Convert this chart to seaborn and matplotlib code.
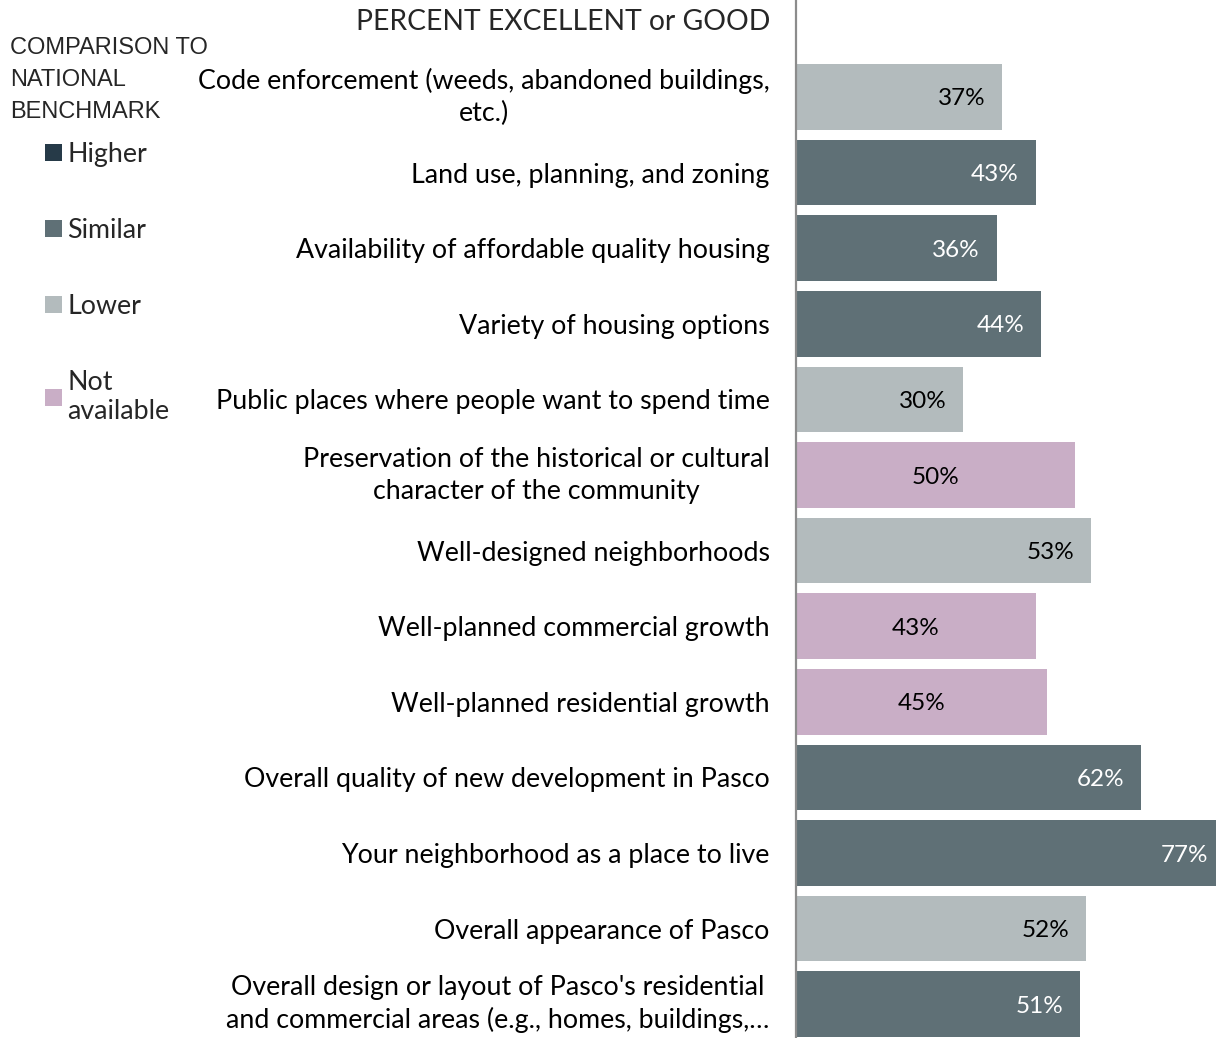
import seaborn as sns
import matplotlib.pyplot as plt
import pandas as pd
from matplotlib.patches import Patch

# Values
items = [
    "Code enforcement (weeds, abandoned buildings,\netc.)",
    "Land use, planning, and zoning",
    "Availability of affordable quality housing",
    "Variety of housing options",
    "Public places where people want to spend time",
    "Preservation of the historical or cultural\ncharacter of the community",
    "Well-designed neighborhoods",
    "Well-planned commercial growth",
    "Well-planned residential growth",
    "Overall quality of new development in Pasco",
    "Your neighborhood as a place to live",
    "Overall appearance of Pasco",
    "Overall design or layout of Pasco's residential\nand commercial areas (e.g., homes, buildings,\u2026",
]
pct = [37, 43, 36, 44, 30, 50, 53, 43, 45, 62, 77, 52, 51]
bench = ["Lower", "Similar", "Similar", "Similar", "Lower", "Not available",
         "Lower", "Not available", "Not available", "Similar", "Similar",
         "Lower", "Similar"]

legend_levels = ["Higher", "Similar", "Lower", "Not available"]
legend_labels = ["Higher", "Similar", "Lower", "Not\navailable"]
colors = {"Higher": "#263a48", "Similar": "#5f7076",
          "Lower": "#b3bbbd", "Not available": "#c9aec6"}
label_color = {"Higher": "white", "Similar": "white",
               "Lower": "black", "Not available": "black"}

df = pd.DataFrame({"item": items, "pct": pct, "bench": bench})

sns.set_theme(style="white")
plt.rcParams["font.family"] = ["Lato", "DejaVu Sans"]

fig = plt.figure(figsize=(12.16, 10.38), dpi=100)
ax = fig.add_axes([796 / 1216, 0.0, 420 / 1216, 1.0])

sns.barplot(data=df, y="item", x="pct", hue="bench", palette=colors,
            dodge=False, orient="h", width=0.87, legend=False, ax=ax,
            saturation=1, linewidth=0)

ax.set_xlim(0, 75.4)
ax.set_ylim(12.447, -1.283)
ax.set_xlabel("")
ax.set_ylabel("")
ax.set_xticks([])
ax.tick_params(axis="y", length=0, pad=19, labelsize=19.3, labelcolor="black")
for lbl in ax.get_yticklabels():
    lbl.set_horizontalalignment("right")
    lbl.set_multialignment("center")
    lbl.set_linespacing(1.35)
    if "\n" in lbl.get_text():
        lbl.set_verticalalignment("center")

for side in ["top", "right", "bottom"]:
    ax.spines[side].set_visible(False)
ax.spines["left"].set_color("#8c8c8c")
ax.spines["left"].set_linewidth(1.6)

# value labels: inside end, centred for "Not available"
for i, (v, b) in enumerate(zip(pct, bench)):
    if b == "Not available":
        ax.text(v / 2, i, f"{v}%", ha="center", va="center_baseline",
                fontsize=17.5, color=label_color[b])
    else:
        ax.annotate(f"{v}%", xy=(v, i), xytext=(-12, 0),
                    textcoords="offset points", ha="right",
                    va="center_baseline", fontsize=17.5,
                    color=label_color[b], annotation_clip=False)

fig.text(770 / 1216, 1 - 22 / 1038, "PERCENT EXCELLENT or GOOD",
         ha="right", va="center", fontsize=20.3)

fig.text(10 / 1216, 1 - 37 / 1038, "COMPARISON TO\nNATIONAL\nBENCHMARK",
         ha="left", va="top", fontsize=17, linespacing=1.6,
         family="Liberation Sans")

handles = [Patch(facecolor=colors[k], edgecolor="none") for k in legend_levels]
fig.legend(handles, legend_labels, loc="upper left",
           bbox_to_anchor=(45 / 1216, 1 - 142 / 1038), frameon=False,
           fontsize=19.3, handlelength=0.63, handleheight=0.63,
           handletextpad=0.2, labelspacing=1.9, borderpad=0,
           borderaxespad=0)

fig.savefig("out.png", dpi=100)
